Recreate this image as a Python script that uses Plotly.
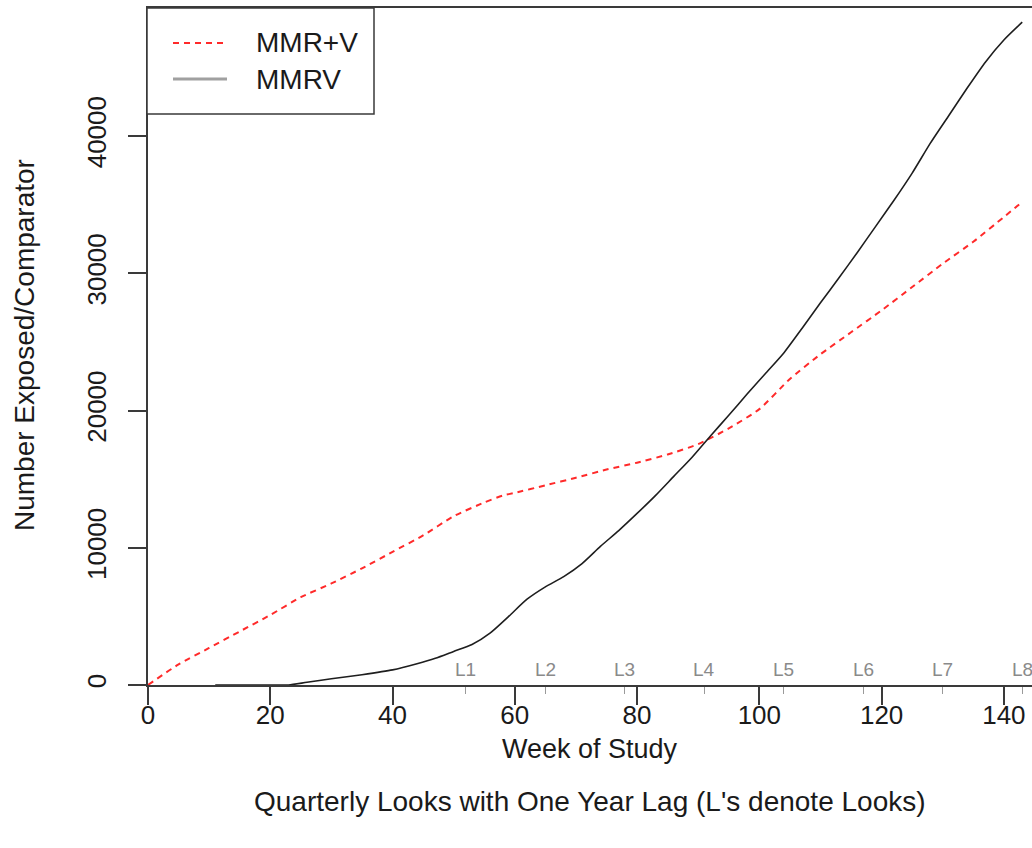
import plotly.graph_objects as go

# Cumulative counts by study week
weeks_mmr_v = [0, 5, 10, 15, 20, 25, 30, 35, 40, 45, 50, 55, 58, 60, 65, 70, 75, 80,
               85, 90, 95, 100, 105, 110, 115, 120, 125, 130, 135, 140, 143]
mmr_v = [0, 1500, 2700, 3900, 5100, 6400, 7400, 8500, 9700, 10900, 12300, 13300, 13800,
         14000, 14550, 15100, 15700, 16200, 16800, 17550, 18700, 20100, 22300, 24100,
         25700, 27300, 29000, 30700, 32300, 34100, 35200]

weeks_mmrv = [11, 15, 20, 23, 26, 30, 35, 40, 44, 47, 50, 53, 56, 59, 62, 65, 68, 71, 74,
              77, 80, 83, 86, 89, 92, 95, 98, 101, 104, 107, 110, 113, 116, 119, 122, 125,
              128, 131, 134, 137, 140, 143]
mmrv = [0, 0, 0, 0, 200, 450, 750, 1100, 1550, 1950, 2450, 2950, 3800, 5000, 6250, 7150,
        7900, 8850, 10100, 11250, 12500, 13800, 15200, 16600, 18150, 19650, 21200, 22700,
        24200, 26000, 27850, 29650, 31500, 33400, 35300, 37300, 39500, 41500, 43500, 45400,
        47000, 48300]

# Quarterly looks (one-year lag)
look_weeks = [52, 65, 78, 91, 104, 117, 130, 143]
look_labels = ["L1", "L2", "L3", "L4", "L5", "L6", "L7", "L8"]

x_ticks = [0, 20, 40, 60, 80, 100, 120, 140]
y_ticks = [0, 10000, 20000, 30000, 40000]

FONT = "Liberation Sans, Arial, sans-serif"
TXT = "#1a1a1a"
AX = "#3a3a3a"
TICK_SIZE = 26
TITLE_SIZE = 28

W, H = 1032, 848
L, R, T, B = 148, 0, 8, 163
PW, PH = W - L - R, H - T - B


def px(x):
    return (x - L) / PW


def py(y):
    return (H - B - y) / PH


fig = go.Figure()
fig.add_trace(go.Scatter(x=weeks_mmr_v, y=mmr_v, mode="lines", name="MMR+V",
                         line=dict(color="#ff2a2a", width=2, dash="6px,5px", shape="spline",
                                   smoothing=0.6)))
fig.add_trace(go.Scatter(x=weeks_mmrv, y=mmrv, mode="lines", name="MMRV",
                         line=dict(color="#1e1e1e", width=1.6, shape="spline", smoothing=0.6)))

annotations = []
for wk, lab in zip(look_weeks, look_labels):
    annotations.append(dict(x=wk, y=0, xref="x", yref="y", text=lab, showarrow=False,
                            yanchor="bottom", yshift=3,
                            font=dict(family=FONT, size=19, color="#8a8a8a")))

annotations += [
    dict(x=0.5, y=py(749), xref="paper", yref="paper", text="Week of Study",
         showarrow=False, yanchor="middle", font=dict(family=FONT, size=27, color=TXT)),
    dict(x=0.5, y=py(801), xref="paper", yref="paper",
         text="Quarterly Looks with One Year Lag (L's denote Looks)",
         showarrow=False, yanchor="middle", font=dict(family=FONT, size=TITLE_SIZE, color=TXT)),
    dict(x=px(25), y=py(345), xref="paper", yref="paper", text="Number Exposed/Comparator",
         showarrow=False, textangle=-90, xanchor="center", yanchor="middle",
         font=dict(family=FONT, size=TITLE_SIZE, color=TXT)),
    dict(x=px(254), y=py(43), xref="paper", yref="paper", text="MMR+V", showarrow=False,
         xanchor="left", yanchor="middle", font=dict(family=FONT, size=TITLE_SIZE, color=TXT)),
    dict(x=px(254), y=py(79), xref="paper", yref="paper", text="MMRV", showarrow=False,
         xanchor="left", yanchor="middle", font=dict(family=FONT, size=TITLE_SIZE, color=TXT)),
]

shapes = [
    # legend frame
    dict(type="rect", xref="paper", yref="paper", x0=px(147), x1=px(374), y0=py(114), y1=py(8),
         line=dict(color=AX, width=1.5), fillcolor="white", layer="above"),
    dict(type="line", xref="paper", yref="paper", x0=px(173), x1=px(227), y0=py(43), y1=py(43),
         line=dict(color="#ff2a2a", width=2, dash="6px,5px")),
    dict(type="line", xref="paper", yref="paper", x0=px(173), x1=px(227), y0=py(79), y1=py(79),
         line=dict(color="#a0a0a0", width=3)),
]

fig.update_layout(
    width=W, height=H, autosize=False,
    margin=dict(l=L, r=R, t=T, b=B, pad=0),
    paper_bgcolor="white", plot_bgcolor="white",
    showlegend=False,
    font=dict(family=FONT, size=TICK_SIZE, color=TXT),
    annotations=annotations, shapes=shapes,
    xaxis=dict(range=[0, 144.6], tickmode="array", tickvals=x_ticks,
               ticks="outside", ticklen=18, tickwidth=1.5, tickcolor=AX,
               ticklabelstandoff=-12,
               showline=True, linecolor=AX, linewidth=1.5, mirror=True,
               showgrid=False, zeroline=False,
               tickfont=dict(family=FONT, size=TICK_SIZE, color=TXT),
               minor=dict(tickmode="array", tickvals=look_weeks, ticks="outside",
                          ticklen=7, tickwidth=1.2, tickcolor="#9a9a9a", showgrid=False)),
    yaxis=dict(range=[0, 49330], tickmode="array", tickvals=y_ticks,
               ticktext=[str(v) for v in y_ticks],
               ticks="outside", ticklen=18, tickwidth=1.5, tickcolor=AX, tickangle=-90,
               ticklabelstandoff=12,
               showline=True, linecolor=AX, linewidth=1.5,
               showgrid=False, zeroline=False,
               tickfont=dict(family=FONT, size=TICK_SIZE, color=TXT)),
)

fig.write_html("out.html")
